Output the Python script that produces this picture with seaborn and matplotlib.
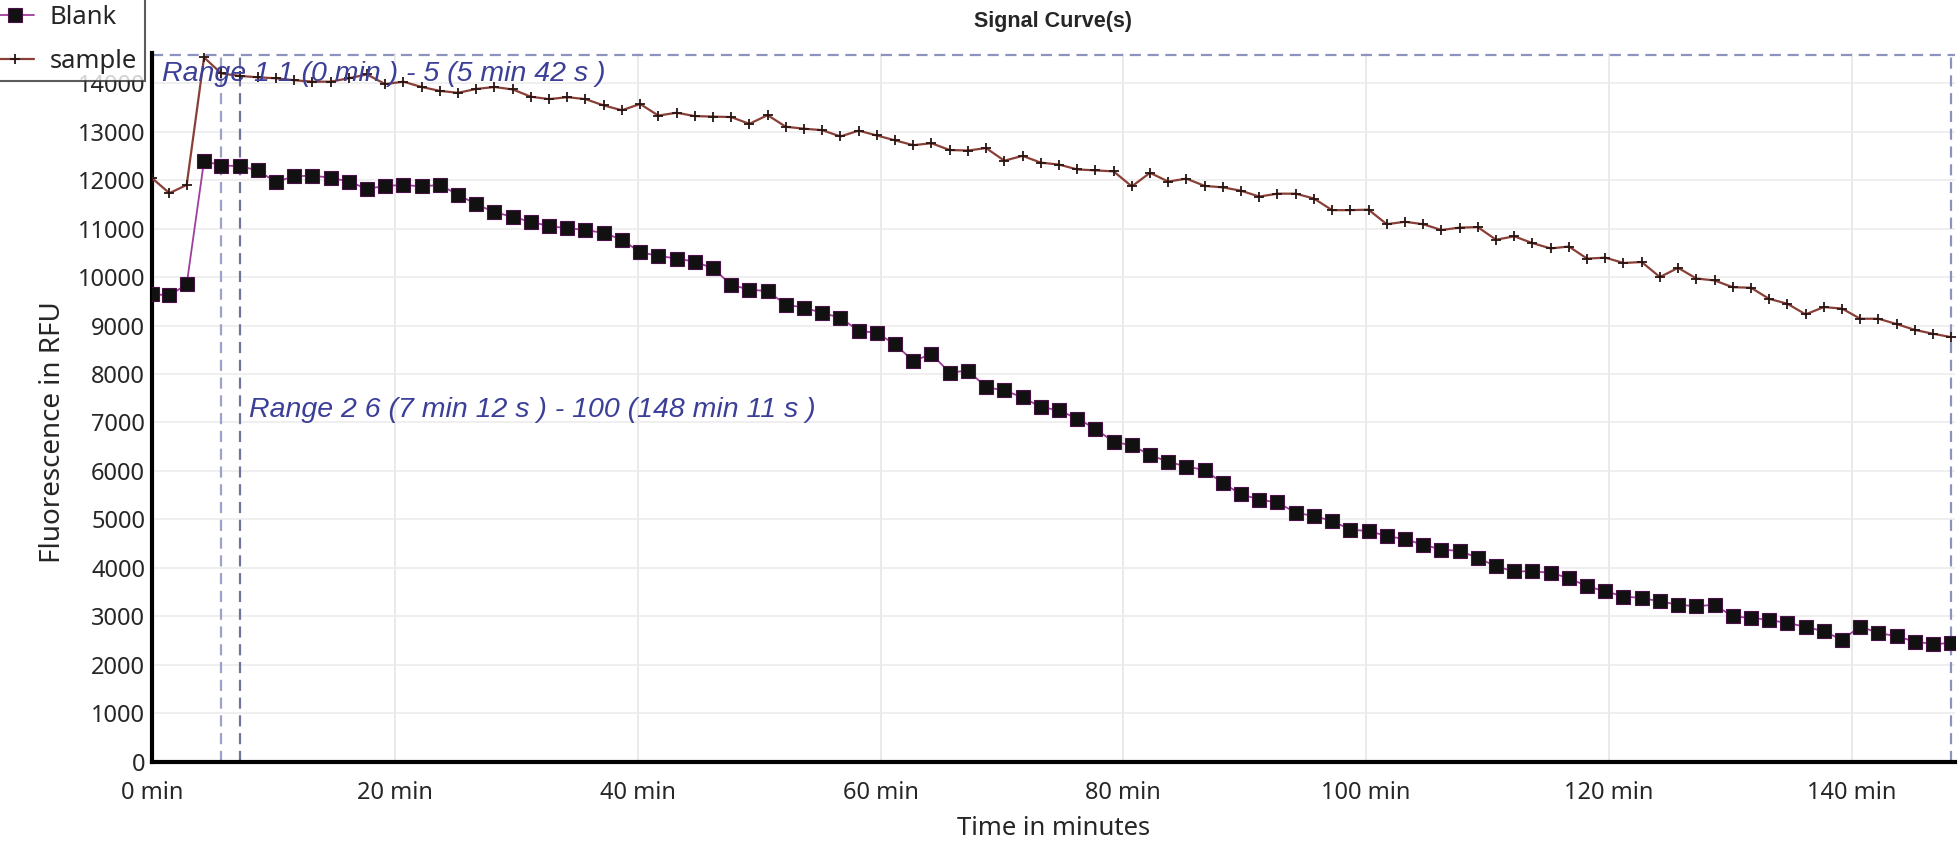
import pandas as pd
import matplotlib
matplotlib.use("Agg")
import matplotlib.pyplot as plt
import seaborn as sns

# Cycle times (min): range 1 = cycles 1-5, range 2 = cycles 6-100
time_min = [0, 1.43, 2.85, 4.28, 5.7,
            7.2, 8.7, 10.2, 11.7, 13.2, 14.7, 16.2, 17.7, 19.2, 20.7,
            22.2, 23.7, 25.2, 26.7, 28.2, 29.7, 31.2, 32.7, 34.2, 35.7,
            37.2, 38.7, 40.2, 41.7, 43.2, 44.7, 46.2, 47.7, 49.2, 50.7,
            52.2, 53.7, 55.2, 56.7, 58.2, 59.7, 61.2, 62.7, 64.2, 65.7,
            67.2, 68.7, 70.2, 71.7, 73.2, 74.7, 76.2, 77.7, 79.2, 80.7,
            82.2, 83.7, 85.2, 86.7, 88.2, 89.7, 91.2, 92.7, 94.2, 95.7,
            97.2, 98.7, 100.2, 101.7, 103.2, 104.7, 106.2, 107.7, 109.2, 110.7,
            112.2, 113.7, 115.2, 116.7, 118.2, 119.7, 121.2, 122.7, 124.2, 125.7,
            127.2, 128.7, 130.2, 131.7, 133.2, 134.7, 136.2, 137.7, 139.2, 140.7,
            142.2, 143.7, 145.2, 146.7, 148.2]

blank = [9650, 9620, 9850, 12400, 12300, 12290, 12200, 11960, 12080, 12090,
         12050, 11970, 11820, 11880, 11900, 11870, 11900, 11700, 11500, 11340,
         11240, 11140, 11050, 11010, 10970, 10910, 10770, 10510, 10440, 10380,
         10320, 10180, 9840, 9740, 9710, 9430, 9370, 9260, 9160, 8890,
         8850, 8610, 8270, 8410, 8030, 8070, 7730, 7660, 7520, 7320,
         7250, 7080, 6870, 6600, 6530, 6330, 6190, 6090, 6020, 5750,
         5520, 5410, 5350, 5140, 5070, 4970, 4790, 4760, 4660, 4590,
         4480, 4380, 4350, 4210, 4030, 3930, 3930, 3900, 3790, 3620,
         3520, 3410, 3380, 3310, 3240, 3210, 3240, 3000, 2970, 2930,
         2860, 2790, 2690, 2520, 2790, 2660, 2590, 2480, 2430, 2450]

sample = [12040, 11730, 11900, 14530, 14200, 14150, 14120, 14100, 14060, 14030,
          14030, 14100, 14180, 13980, 14030, 13920, 13840, 13800, 13880, 13920,
          13870, 13720, 13670, 13710, 13670, 13540, 13440, 13570, 13330, 13390,
          13320, 13310, 13300, 13160, 13340, 13100, 13060, 13030, 12900, 13020,
          12920, 12820, 12720, 12760, 12620, 12610, 12660, 12400, 12500, 12360,
          12320, 12220, 12200, 12180, 11870, 12150, 11970, 12030, 11880, 11850,
          11780, 11660, 11720, 11720, 11620, 11380, 11380, 11390, 11090, 11140,
          11090, 10970, 11020, 11030, 10770, 10840, 10700, 10590, 10630, 10380,
          10400, 10290, 10310, 10000, 10190, 9970, 9930, 9790, 9780, 9550,
          9450, 9230, 9380, 9350, 9140, 9140, 9030, 8910, 8830, 8760]

range1 = (0, 5.7)
range2 = (7.2, 148.18)
range1_label = "Range 1 1 (0 min ) - 5 (5 min 42 s )"
range2_label = "Range 2 6 (7 min 12 s ) - 100 (148 min 11 s )"

df = pd.DataFrame({"Time": time_min, "Blank": blank, "sample": sample})

sns.set_style("white")
plt.rcParams['font.family'] = ['Noto Sans', 'DejaVu Sans']

fig = plt.figure(figsize=(19.6, 8.56), dpi=100)
ax = fig.add_axes([0.0776, 0.110, 0.9198, 0.828])

# light grid
for x in range(20, 150, 20):
    ax.axvline(x, color='#e6e6e6', lw=1.2, zorder=0)
for y in range(1000, 15000, 1000):
    ax.axhline(y, color='#ececec', lw=1.2, zorder=0)

# range boxes
top = 14570
ymax = 14620
dash = (0, (5, 3))
ax.axhline(top, color='#8e93bd', lw=1.6, ls=dash, zorder=1)
ax.axvline(range1[1], ymax=top / ymax, color='#9da2c8', lw=1.6, ls=dash, zorder=1)
ax.axvline(range2[0], ymax=top / ymax, color='#6f739e', lw=1.6, ls=dash, zorder=1)
ax.axvline(range2[1], ymax=top / ymax, color='#8e93bd', lw=1.6, ls=dash, zorder=1)

sns.lineplot(data=df, x="Time", y="sample", ax=ax, color='#8a3f36', lw=1.6,
             marker='+', markersize=7, markeredgecolor='#2a1412', markeredgewidth=1.3,
             label='sample', zorder=3)
sns.lineplot(data=df, x="Time", y="Blank", ax=ax, color='#a03c9c', lw=1.3,
             marker='s', markersize=10, markerfacecolor='#111111', markeredgecolor='#4a1048',
             markeredgewidth=0.8, label='Blank', zorder=4)

ax.text(0.8, 14180, range1_label, color='#3c3f98', fontsize=20.5, style='italic', va='center',
        family=['Liberation Sans', 'DejaVu Sans'], zorder=5)
ax.text(8.0, 7250, range2_label, color='#3c3f98', fontsize=20.5, style='italic', va='center',
        family=['Liberation Sans', 'DejaVu Sans'], zorder=5)

ax.set_xlim(0, 148.5)
ax.set_ylim(0, ymax)
ax.set_xticks(range(0, 150, 20))
ax.set_xticklabels([f"{x} min" for x in range(0, 150, 20)])
ax.set_yticks(range(0, 15000, 1000))
ax.tick_params(axis='both', length=0, labelsize=17)
ax.tick_params(axis='x', pad=14)
ax.tick_params(axis='y', pad=5)

for s in ['top', 'right']:
    ax.spines[s].set_visible(False)
for s in ['left', 'bottom']:
    ax.spines[s].set_color('black')
    ax.spines[s].set_linewidth(3)

ax.set_xlabel("Time in minutes", fontsize=18.5)
ax.xaxis.set_label_coords(0.5, -0.076)
ax.set_ylabel("Fluorescence in RFU", fontsize=20)
ax.yaxis.set_label_coords(-0.047, 0.465)
fig.text(0.537, 0.975, "Signal Curve(s)", ha='center', va='center', fontsize=15.5,
         fontweight='bold', family=['Liberation Sans', 'DejaVu Sans'])

ax.get_legend().remove()
handles, labels = ax.get_legend_handles_labels()
order = [labels.index('Blank'), labels.index('sample')]
leg = fig.legend([handles[i] for i in order], [labels[i] for i in order],
                 loc='upper left', bbox_to_anchor=(-0.006, 1.003), fontsize=18.5,
                 frameon=True, fancybox=False, handlelength=1.5, handletextpad=0.6,
                 borderpad=0.3, labelspacing=0.72, borderaxespad=0)
leg.get_frame().set_edgecolor('#333333')
leg.get_frame().set_linewidth(1.5)

fig.savefig("out.png", dpi=100)
